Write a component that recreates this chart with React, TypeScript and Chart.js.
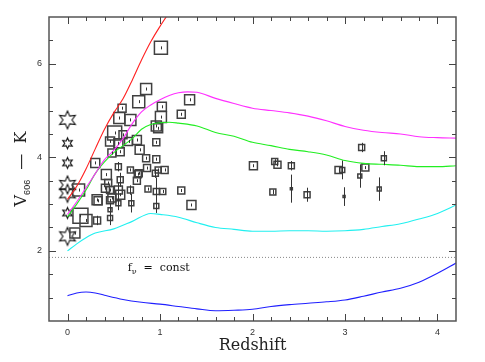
import React, { useEffect, useRef } from "react";
import { Chart, registerables } from "chart.js";
Chart.register(...registerables);

// Model curves
const redX = [0, 0.1, 0.2, 0.3, 0.4, 0.5, 0.6, 0.7, 0.8, 0.9, 1.0, 1.1];
const redY = [3.1, 3.38, 3.75, 4.18, 4.6, 4.95, 5.25, 5.65, 6.08, 6.47, 6.8, 7.1];
const magX = [0, 0.1, 0.2, 0.3, 0.4, 0.5, 0.6, 0.7, 0.8, 0.9, 1.0, 1.1, 1.2, 1.3, 1.4, 1.6, 1.8, 2.0, 2.2, 2.4, 2.6, 2.8, 3.0, 3.2, 3.4, 3.6, 3.8, 4.0, 4.2];
const magY = [2.78, 3.05, 3.35, 3.65, 3.95, 4.15, 4.4, 4.72, 4.97, 5.12, 5.23, 5.32, 5.38, 5.4, 5.39, 5.26, 5.15, 5.05, 5.0, 4.95, 4.88, 4.78, 4.66, 4.58, 4.53, 4.5, 4.44, 4.42, 4.41];
const grnX = [0, 0.1, 0.2, 0.3, 0.4, 0.5, 0.6, 0.7, 0.8, 0.9, 1.0, 1.1, 1.2, 1.4, 1.6, 1.8, 2.0, 2.2, 2.4, 2.6, 2.8, 3.0, 3.2, 3.4, 3.6, 3.8, 4.0, 4.2];
const grnY = [2.73, 3.0, 3.3, 3.65, 3.9, 4.1, 4.25, 4.4, 4.6, 4.7, 4.74, 4.75, 4.73, 4.67, 4.53, 4.45, 4.32, 4.25, 4.17, 4.12, 4.05, 3.93, 3.87, 3.85, 3.83, 3.8, 3.8, 3.82];
const cyaX = [0, 0.1, 0.2, 0.3, 0.5, 0.7, 0.9, 1.0, 1.2, 1.4, 1.6, 1.8, 2.0, 2.2, 2.4, 2.6, 2.8, 3.0, 3.2, 3.4, 3.6, 3.8, 4.0, 4.2];
const cyaY = [2.0, 2.15, 2.28, 2.38, 2.47, 2.63, 2.8, 2.78, 2.72, 2.6, 2.5, 2.46, 2.42, 2.42, 2.43, 2.43, 2.42, 2.43, 2.46, 2.52, 2.58, 2.68, 2.8, 2.98];
const bluX = [0, 0.1, 0.2, 0.3, 0.4, 0.6, 0.8, 1.0, 1.2, 1.4, 1.6, 1.8, 2.0, 2.2, 2.4, 2.6, 2.8, 3.0, 3.2, 3.4, 3.6, 3.8, 4.0, 4.2];
const bluY = [1.04, 1.1, 1.12, 1.1, 1.05, 0.96, 0.9, 0.86, 0.81, 0.76, 0.72, 0.73, 0.75, 0.81, 0.85, 0.88, 0.91, 0.95, 1.03, 1.12, 1.2, 1.33, 1.52, 1.74];

// f_nu = const level
const fnuLevel = 1.86;

// Galaxies (squares)
const sqX = [1.01, 0.85, 1.32, 0.77, 1.02, 0.59, 1.23, 1.01, 0.56, 0.68, 0.96, 0.98, 0.51, 0.6, 0.75, 0.46, 0.55, 0.66, 0.96, 0.78, 0.57, 0.48, 0.85, 0.96, 0.3, 0.42, 0.55, 0.68, 0.77, 0.86, 0.95, 1.05, 0.98, 0.76, 0.75, 0.57, 0.41, 0.44, 0.55, 0.46, 0.12, 0.87, 1.03, 0.96, 0.68, 0.57, 0.48, 0.32, 0.33, 0.46, 0.69, 0.55, 0.96, 0.46, 0.14, 0.2, 0.32, 0.46, 0.08, 1.34, 1.23, 2.01, 2.24, 2.27, 2.42, 2.42, 2.22, 2.59, 3.18, 3.42, 2.93, 2.97, 3.22, 3.16, 3.37, 2.99];
const sqY = [6.34, 5.46, 5.23, 5.19, 5.08, 5.05, 4.92, 4.86, 4.84, 4.8, 4.67, 4.62, 4.52, 4.48, 4.37, 4.34, 4.3, 4.34, 4.32, 4.16, 4.12, 4.09, 3.98, 3.96, 3.88, 3.63, 3.8, 3.73, 3.66, 3.77, 3.66, 3.73, 3.73, 3.64, 3.5, 3.52, 3.34, 3.45, 3.3, 3.3, 3.3, 3.32, 3.27, 3.27, 3.3, 3.2, 3.13, 3.09, 3.07, 3.08, 3.02, 3.02, 2.96, 2.88, 2.75, 2.65, 2.65, 2.7, 2.38, 2.98, 3.29, 3.82, 3.91, 3.84, 3.82, 3.33, 3.26, 3.2, 4.21, 3.98, 3.73, 3.73, 3.78, 3.6, 3.32, 3.16];
const sqErr = [0, 0, 0, 0, 0, 0, 0, 0, 0, 0, 0, 0, 0, 0, 0, 0, 0, 0, 0, 0, 0, 0, 0, 0, 0, 0, 0.1, 0, 0, 0, 0.1, 0, 0, 0, 0, 0.15, 0, 0, 0.15, 0, 0, 0, 0, 0.3, 0.1, 0, 0, 0, 0, 0, 0.2, 0.15, 0.15, 0.15, 0, 0, 0.1, 0.15, 0, 0, 0, 0, 0.05, 0, 0.1, 0.3, 0.05, 0.15, 0.1, 0.15, 0, 0.2, 0, 0.25, 0.25, 0.2];
const sqSize = [13, 11, 10, 12, 9, 8, 8, 11, 11, 11, 10, 9, 14, 8, 9, 9, 9, 8, 7, 9, 8, 8, 7, 7, 9, 10, 6, 6, 7, 7, 6, 7, 6, 7, 7, 6, 8, 7, 8, 7, 12, 6, 6, 6, 6, 9, 8, 10, 8, 7, 5, 5, 5, 4, 15, 12, 7, 5, 10, 9, 7, 8, 6, 7, 6, 2, 6, 6, 6, 5, 7, 5, 7, 4, 4, 2];

// Stars at z = 0
const starX = [0, 0, 0, 0, 0, 0, 0];
const starY = [4.8, 4.3, 3.88, 3.41, 3.23, 2.81, 2.31];
const starBig = [true, false, false, true, true, false, true];

const xTickValues = [-0.2, 0, 0.2, 0.4, 0.6, 0.8, 1, 1.2, 1.4, 1.6, 1.8, 2, 2.2, 2.4, 2.6, 2.8, 3, 3.2, 3.4, 3.6, 3.8, 4, 4.2];
const xTickLabels = [0, 1, 2, 3, 4];
const yTickValues = [0.5, 1, 1.5, 2, 2.5, 3, 3.5, 4, 4.5, 5, 5.5, 6, 6.5, 7];
const yTickLabels = [2, 4, 6];

function makeStar(R: number): HTMLCanvasElement {
  const c = document.createElement("canvas");
  const s = Math.ceil(R * 2 + 4);
  c.width = s;
  c.height = s;
  const ctx = c.getContext("2d")!;
  const cx = s / 2, cy = s / 2;
  const r = R * 0.5;
  ctx.beginPath();
  for (let i = 0; i < 12; i++) {
    const a = -Math.PI / 2 + (i * Math.PI) / 6;
    const rr = i % 2 === 0 ? R : r;
    const px = cx + rr * Math.cos(a), py = cy + rr * Math.sin(a);
    if (i === 0) ctx.moveTo(px, py); else ctx.lineTo(px, py);
  }
  ctx.closePath();
  ctx.strokeStyle = "#111";
  ctx.lineWidth = 1.1;
  ctx.stroke();
  return c;
}

const pts = (xs: number[], ys: number[]) => xs.map((x, i) => ({ x, y: ys[i] }));
const near = (a: number, b: number) => Math.abs(a - b) < 1e-6;

export default function App() {
  const ref = useRef<HTMLCanvasElement>(null);
  useEffect(() => {
    const bigStar = makeStar(9);
    const smallStar = makeStar(5.5);

    const framePlugin = {
      id: "frame",
      afterDatasetsDraw(chart: any) {
        const { ctx, chartArea: a, scales } = chart;
        const xs = scales.x, ys = scales.y;
        ctx.save();
        // error bars & centre marks
        const meta = chart.getDatasetMeta(6);
        ctx.strokeStyle = "#333";
        ctx.lineWidth = 1;
        meta.data.forEach((el: any, i: number) => {
          const px = Math.round(el.x) + 0.5;
          const e = sqErr[i];
          const top = e > 0 ? ys.getPixelForValue(sqY[i] + e) : el.y - 1.5;
          const bot = e > 0 ? ys.getPixelForValue(sqY[i] - e) : el.y + 1.5;
          ctx.beginPath();
          ctx.moveTo(px, top);
          ctx.lineTo(px, bot);
          ctx.stroke();
        });
        // frame
        ctx.strokeStyle = "#555";
        ctx.lineWidth = 1.5;
        ctx.strokeRect(a.left, a.top, a.right - a.left, a.bottom - a.top);
        ctx.lineWidth = 1;
        ctx.strokeStyle = "#444";
        xTickValues.forEach((v) => {
          if (near(v, -0.2) || near(v, 4.2)) return;
          const major = near(v, Math.round(v));
          const L = major ? 7 : 4;
          const px = Math.round(xs.getPixelForValue(v)) + 0.5;
          ctx.beginPath();
          ctx.moveTo(px, a.bottom);
          ctx.lineTo(px, a.bottom - L);
          ctx.moveTo(px, a.top);
          ctx.lineTo(px, a.top + L);
          ctx.stroke();
        });
        yTickValues.forEach((v) => {
          if (near(v, 0.5) || near(v, 7)) return;
          const major = near(v / 2, Math.round(v / 2));
          const L = major ? 7 : 4;
          const py = Math.round(ys.getPixelForValue(v)) + 0.5;
          ctx.beginPath();
          ctx.moveTo(a.left, py);
          ctx.lineTo(a.left + L, py);
          ctx.moveTo(a.right, py);
          ctx.lineTo(a.right - L, py);
          ctx.stroke();
        });
        // f_nu label
        ctx.fillStyle = "#111";
        ctx.textBaseline = "middle";
        ctx.textAlign = "left";
        let tx = xs.getPixelForValue(0.65);
        const ty = ys.getPixelForValue(1.62);
        ctx.font = "11px 'DejaVu Serif'";
        ctx.fillText("f", tx, ty);
        tx += ctx.measureText("f").width;
        ctx.font = "8px 'DejaVu Serif'";
        ctx.fillText("\u03BD", tx, ty + 3);
        tx += ctx.measureText("\u03BD").width;
        ctx.font = "11px 'DejaVu Serif'";
        ctx.fillText("  =  const", tx, ty);
        // x title
        ctx.textAlign = "center";
        ctx.font = "16px 'DejaVu Serif'";
        ctx.fillStyle = "#222";
        ctx.fillText("Redshift", (a.left + a.right) / 2, 346);
        // y title
        ctx.translate(22, (a.top + a.bottom) / 2);
        ctx.rotate(-Math.PI / 2);
        ctx.textAlign = "left";
        const f1 = "16px 'DejaVu Serif'";
        const f2 = "9px 'Liberation Sans'";
        ctx.font = f1;
        const wV = ctx.measureText("V").width;
        const wRest = ctx.measureText("  \u2014  K").width;
        ctx.font = f2;
        const wS = ctx.measureText("606").width;
        let sx = -(wV + wS + wRest) / 2;
        ctx.font = f1;
        ctx.fillText("V", sx, 0);
        sx += wV;
        ctx.font = f2;
        ctx.fillText("606", sx, 6);
        sx += wS;
        ctx.font = f1;
        ctx.fillText("  \u2014  K", sx, 0);
        ctx.restore();
      },
    };

    const line = (label: string, xs: number[], ys: number[], color: string) => ({
      type: "line" as const,
      label,
      data: pts(xs, ys),
      borderColor: color,
      borderWidth: 1.1,
      pointRadius: 0,
      fill: false,
      tension: 0.4,
      cubicInterpolationMode: "monotone" as const,
    });

    const tickLabel = (labels: number[]) => (v: any) => {
      const r = Math.round(v);
      return near(v, r) && labels.includes(r) ? String(r) : "";
    };

    const chart = new Chart(ref.current!, {
      type: "scatter",
      data: {
        datasets: [
          line("red", redX, redY, "#ff2020"),
          line("magenta", magX, magY, "#ff30ff"),
          line("green", grnX, grnY, "#22ee22"),
          line("cyan", cyaX, cyaY, "#22f0f0"),
          line("blue", bluX, bluY, "#2020ff"),
          {
            type: "line",
            label: "fnu",
            data: [{ x: -0.2, y: fnuLevel }, { x: 4.2, y: fnuLevel }],
            borderColor: "#888",
            borderWidth: 1,
            borderDash: [1, 2],
            pointRadius: 0,
          },
          {
            type: "scatter",
            label: "galaxies",
            data: pts(sqX, sqY),
            pointStyle: "rect",
            pointRadius: sqSize.map((s) => s / Math.SQRT2),
            backgroundColor: "rgba(0,0,0,0)",
            borderColor: "#404040",
            borderWidth: 1.5,
          },
          {
            type: "scatter",
            label: "stars",
            data: pts(starX, starY),
            pointStyle: starBig.map((b) => (b ? bigStar : smallStar)),
            pointRadius: 8,
          },
        ],
      } as any,
      options: {
        animation: false,
        responsive: false,
        events: [],
        layout: { padding: { left: 0, top: 17, right: 29, bottom: 0 } },
        plugins: { legend: { display: false }, tooltip: { enabled: false } },
        scales: {
          x: {
            type: "linear",
            min: -0.2,
            max: 4.2,
            grid: { display: false, drawTicks: false },
            border: { display: false },
            afterBuildTicks: (s: any) => { s.ticks = xTickValues.map((value) => ({ value })); },
            ticks: {
              padding: 6,
              maxRotation: 0,
              autoSkip: false,
              color: "#333",
              font: { family: "'Liberation Sans'", size: 9 },
              callback: tickLabel(xTickLabels),
            },
            afterFit: (s: any) => { s.height = 41; },
          },
          y: {
            type: "linear",
            min: 0.5,
            max: 7,
            grid: { display: false, drawTicks: false },
            border: { display: false },
            afterBuildTicks: (s: any) => { s.ticks = yTickValues.map((value) => ({ value })); },
            ticks: {
              padding: 7,
              autoSkip: false,
              color: "#333",
              font: { family: "'Liberation Sans'", size: 9 },
              callback: tickLabel(yTickLabels),
            },
            afterFit: (s: any) => { s.width = 49; },
          },
        },
      },
      plugins: [framePlugin],
    });
    return () => chart.destroy();
  }, []);
  return (
    <div style={{ position: "absolute", left: 0, top: 0, width: 485, height: 362, background: "#fff" }}>
      <canvas ref={ref} width={485} height={362} style={{ display: "block" }} />
    </div>
  );
}
